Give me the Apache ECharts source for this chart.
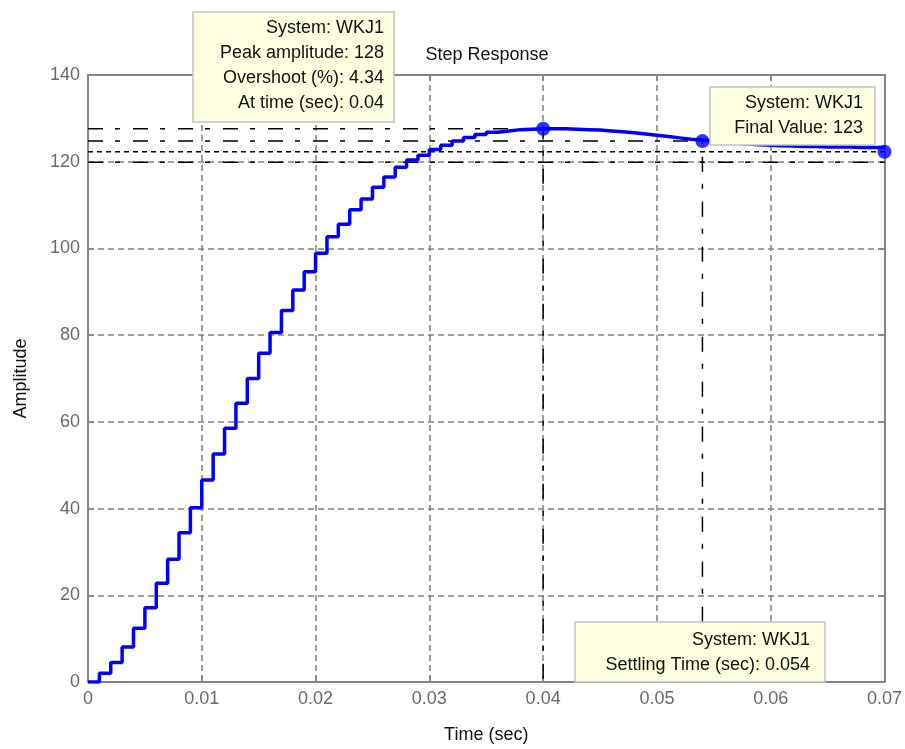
<!DOCTYPE html>
<html>
<head>
<meta charset="utf-8">
<script src="https://cdn.jsdelivr.net/npm/echarts@6/dist/echarts.min.js"></script>
<style>
html, body { margin: 0; padding: 0; background: #fff; }
#chart { width: 905px; height: 749px; }
</style>
</head>
<body>
<div id="chart"></div>
<script>
// discrete step response of WKJ1, one value per sample
const sampleTime = 0.001
const response = [
    0, 2.0, 4.5, 8.1, 12.4, 17.1, 22.8, 28.3, 34.4, 40.2,
    46.6, 52.6, 58.5, 64.3, 70.0, 75.8, 80.6, 85.7, 90.4, 94.6,
    98.9, 102.7, 105.6, 108.9, 111.4, 114.1, 116.5, 118.7, 120.4, 121.5,
    122.8, 123.8, 124.8, 125.6, 126.3, 126.8, 127.1, 127.4, 127.5, 127.6,
    127.6, 127.6, 127.5, 127.4, 127.3, 127.1, 126.9, 126.7, 126.4, 126.1,
    125.8, 125.5, 125.2, 125.0, 124.75, 124.5, 124.3, 124.1, 123.9, 123.8,
    123.7, 123.6, 123.5, 123.5, 123.4, 123.4, 123.4, 123.3, 123.3, 123.3,
    123.3
]
const xTicks = [0, 0.01, 0.02, 0.03, 0.04, 0.05, 0.06, 0.07]
const yTicks = [0, 20, 40, 60, 80, 100, 120, 140]

// characteristics
const peakPoint = [0.04, 127.6]
const settlePoint = [0.054, 124.75]
const finalPoint = [0.07, 122.3]
const lowerBound = 119.85

const peakTip = ['System: WKJ1', 'Peak amplitude: 128', 'Overshoot (%): 4.34', 'At time (sec): 0.04']
const finalTip = ['System: WKJ1', 'Final Value: 123']
const settleTip = ['System: WKJ1', 'Settling Time (sec): 0.054']

const font = 'Liberation Sans'
const xMin = xTicks[0], xMax = xTicks[xTicks.length - 1]
const yMin = yTicks[0], yMax = yTicks[yTicks.length - 1]

const stepData = response.map((v, i) => [i * sampleTime, v])

const dashDot = [15, 12, 5, 13]
const refLine = (data, type) => ({
    type: 'line',
    data: data,
    symbol: 'none',
    silent: true,
    z: 3,
    lineStyle: { color: '#000', width: 1.5, type: type }
})

// data tip boxes sit on top of everything
const tipBox = (x, y, w, h, rightX, firstCenter, lines) => ([
    {
        type: 'rect',
        z: 100,
        zlevel: 1,
        shape: { x: x, y: y, width: w, height: h },
        style: { fill: '#ffffe1', stroke: '#c4c4c4', lineWidth: 1.5 }
    },
    {
        type: 'text',
        z: 101,
        zlevel: 1,
        style: {
            text: lines.join('\n'),
            x: rightX,
            y: firstCenter - 12.5,
            align: 'right',
            verticalAlign: 'top',
            lineHeight: 25,
            fontSize: 18,
            fontFamily: font,
            fill: '#111'
        }
    }
])

const baseX = {
    type: 'value',
    min: xMin,
    max: xMax,
    interval: xTicks[1] - xTicks[0]
}
const baseY = {
    type: 'value',
    min: yMin,
    max: yMax,
    interval: yTicks[1] - yTicks[0]
}
const axisLine = { show: true, onZero: false, lineStyle: { color: '#858585', width: 2 } }
const axisTick = { show: true, inside: true, length: 6, lineStyle: { color: '#858585', width: 1.5 } }

const chart = echarts.init(document.getElementById('chart'))
chart.setOption({
    animation: false,
    backgroundColor: '#fff',
    title: {
        text: 'Step Response',
        left: 482,
        top: 41,
        textAlign: 'center',
        textStyle: { fontFamily: font, fontSize: 18, fontWeight: 'normal', color: '#111' }
    },
    grid: { left: 88, right: 20, top: 75, bottom: 67 },
    xAxis: [
        Object.assign({}, baseX, {
            position: 'bottom',
            name: 'Time (sec)',
            nameLocation: 'middle',
            nameGap: 44,
            nameTextStyle: { fontFamily: font, fontSize: 18, color: '#111' },
            axisLine: axisLine,
            axisTick: axisTick,
            axisLabel: {
                margin: 8,
                fontFamily: font, fontSize: 18, color: '#6a6a6a',
                formatter: (v) => String(Math.round(v * 100) / 100)
            },
            splitLine: { show: true, lineStyle: { color: '#808080', width: 1.5, type: [6, 4] } }
        }),
        Object.assign({}, baseX, {
            position: 'top',
            axisLine: axisLine,
            axisTick: axisTick,
            axisLabel: { show: false },
            splitLine: { show: false }
        })
    ],
    yAxis: [
        Object.assign({}, baseY, {
            position: 'left',
            name: 'Amplitude',
            nameLocation: 'middle',
            nameGap: 58,
            nameTextStyle: { fontFamily: font, fontSize: 18, color: '#111' },
            axisLine: axisLine,
            axisTick: axisTick,
            axisLabel: { margin: 8, fontFamily: font, fontSize: 18, color: '#6a6a6a' },
            splitLine: { show: true, lineStyle: { color: '#808080', width: 1.5, type: [6, 4] } }
        }),
        Object.assign({}, baseY, {
            position: 'right',
            axisLine: axisLine,
            axisTick: axisTick,
            axisLabel: { show: false },
            splitLine: { show: false }
        })
    ],
    series: [
        // settling band and final value across the whole axis
        refLine([[xMin, lowerBound], [xMax, lowerBound]], dashDot),
        refLine([[xMin, finalPoint[1]], [xMax, finalPoint[1]]], [5, 4]),
        // peak response
        refLine([[xMin, peakPoint[1]], peakPoint, [peakPoint[0], yMin]], dashDot),
        // settling time
        refLine([[xMin, settlePoint[1]], settlePoint, [settlePoint[0], yMin]], dashDot),
        {
            type: 'line',
            data: stepData,
            step: 'end',
            symbol: 'none',
            z: 5,
            lineStyle: { color: '#0000ff', width: 3.5 }
        },
        {
            type: 'scatter',
            data: [peakPoint, settlePoint, finalPoint],
            symbol: 'circle',
            symbolSize: 14,
            clip: false,
            z: 6,
            itemStyle: { color: '#0000ff' }
        }
    ],
    graphic: [].concat(
        tipBox(193, 12, 201, 110, 384, 28, peakTip),
        tipBox(710, 87, 165, 58, 863, 103, finalTip),
        tipBox(575, 622, 250, 60, 810, 640, settleTip)
    )
})
</script>
</body>
</html>
